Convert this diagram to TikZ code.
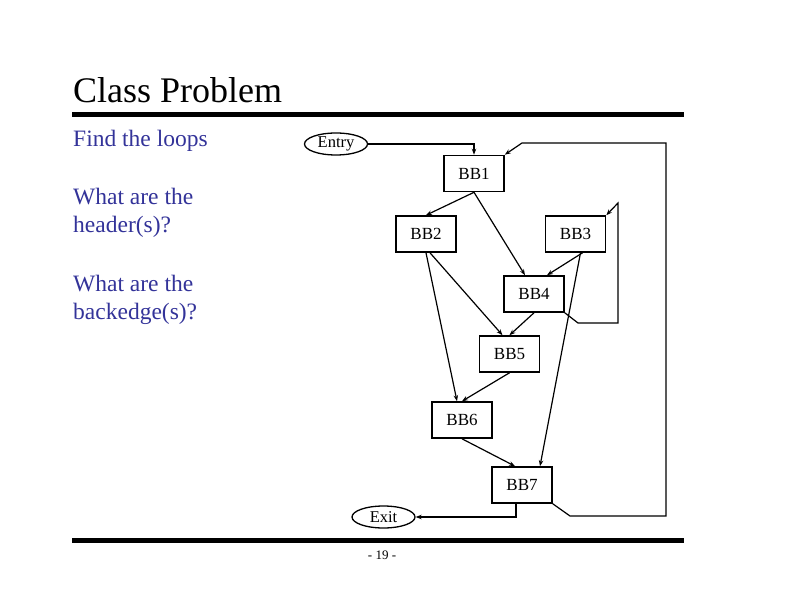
\documentclass[tikz,border=0pt]{standalone}
\usepackage{fontspec}
\setmainfont{Liberation Serif}
\usepackage{xcolor}
\usetikzlibrary{arrows.meta,shapes.geometric}
\definecolor{slideblue}{RGB}{51,51,153}

\begin{document}
\begin{tikzpicture}[x=1pt,y=-1pt]
\tikzset{block/.style={draw,line width=1.6pt,minimum width=60pt,minimum height=36pt,inner sep=0pt,font=\fontsize{17}{17}\selectfont}}
\tikzset{term/.style={draw,ellipse,line width=1.3pt,minimum width=63pt,minimum height=22pt,inner sep=0pt,font=\fontsize{16.5}{16.5}\selectfont}}
\tikzset{edge/.style={line width=1.2pt,-{Stealth[length=6pt,width=4.5pt]}}}
\tikzset{blue text/.style={anchor=base west,inner sep=0pt,text=slideblue,font=\fontsize{23.5}{28}\selectfont,align=left}}

\useasboundingbox (0,0) rectangle (792,612);

% slide frame
\node[anchor=base west,inner sep=0pt,font=\fontsize{36}{36}\selectfont] (title) at (73,103) {Class Problem};
\draw[line width=4.5pt] (72,114.5) -- (684,114.5);
\draw[line width=4.5pt] (72,540.5) -- (684,540.5);
\node[font=\fontsize{13}{13}\selectfont] (page) at (382,555) {- 19 -};

\node[blue text] (q1) at (73,147) {Find the loops};
\node[blue text] (q2) at (73,233) {What are the\\header(s)?};
\node[blue text] (q3) at (73,319) {What are the\\backedge(s)?};

% control flow graph
\node[term] (Entry) at (336,144) {Entry};
\node[block] (BB1) at (474,173.5) {BB1};
\node[block] (BB2) at (426,234) {BB2};
\node[block] (BB3) at (575.5,234) {BB3};
\node[block] (BB4) at (534,294) {BB4};
\node[block] (BB5) at (509.5,354) {BB5};
\node[block] (BB6) at (462,420) {BB6};
\node[block] (BB7) at (522,485) {BB7};
\node[term] (Exit) at (383.5,517) {Exit};

\coordinate (l1) at (578,323);
\coordinate (l2) at (618,323);
\coordinate (l3) at (618,203);
\coordinate (o1) at (570,516);
\coordinate (o2) at (666,516);
\coordinate (o3) at (666,143);
\coordinate (o4) at (522,143);

\draw[edge] (Entry.east) -| (BB1.north);
\draw[edge] (BB1.south) -- (BB2.north);
\draw[edge] (BB1.south) -- ([xshift=-9pt]BB4.north);
\draw[edge] (BB2.south) -- ([xshift=-5pt]BB6.north);
\draw[edge] ([xshift=4pt]BB2.south) -- ([xshift=-7pt]BB5.north);
\draw[edge] ([xshift=7pt]BB3.south) -- ([xshift=13pt]BB4.north);
\draw[edge] ([xshift=5pt]BB3.south) -- ([xshift=18pt]BB7.north);
\draw[edge] (BB4.south) -- (BB5.north);
\draw[edge] (BB5.south) -- (BB6.north);
\draw[edge] (BB6.south) -- ([xshift=-7pt]BB7.north);
\draw[edge] ([xshift=-6pt]BB7.south) |- (Exit.east);
\draw[edge] (BB4.south east) -- (l1) -- (l2) -- (l3) -- (BB3.north east);
\draw[edge] (BB7.south east) -- (o1) -- (o2) -- (o3) -- (o4) -- (BB1.north east);

\end{tikzpicture}
\end{document}
